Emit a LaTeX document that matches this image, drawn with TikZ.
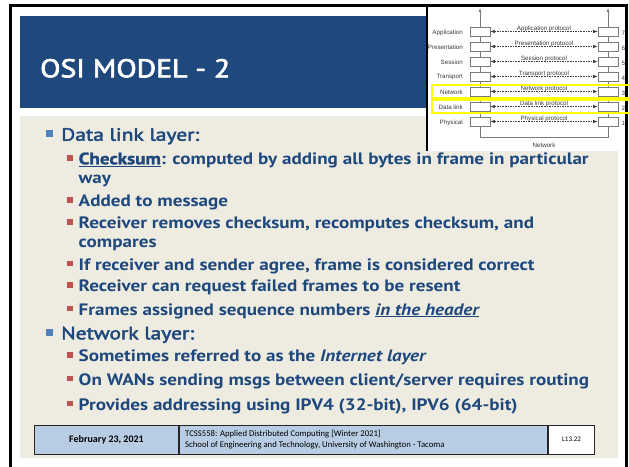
\documentclass[tikz,border=0pt]{standalone}
\usepackage{fontspec}
\usepackage{graphicx}
\usetikzlibrary{arrows.meta}

\setmainfont{PT Sans}
\newfontfamily\ptsans{PT Sans}
\newfontfamily\ptmed[FakeBold=2.5]{PT Sans}
\newfontfamily\ptheavy[FakeBold=1.5]{PT Sans}
\newfontfamily\carlito{Carlito}
\newfontfamily\arialish{Liberation Sans}

\definecolor{titleblue}{HTML}{1F497D}
\definecolor{pagebeige}{HTML}{EEECE1}
\definecolor{textblue}{HTML}{1F497D}
\definecolor{bulletblue}{HTML}{4F81BD}
\definecolor{bulletred}{HTML}{C0504D}
\definecolor{footblue}{HTML}{B8CCE4}
\definecolor{osigray}{HTML}{7A7A7A}
\definecolor{ositext}{HTML}{3A3A3A}
\definecolor{marker}{HTML}{FFFF00}

% fonts of the slide text
\newcommand\lonefont{\ptmed\fontsize{17.7}{20}\selectfont}
\newcommand\ltwofont{\ptsans\bfseries\fontsize{16.5}{19}\selectfont}
\newcommand\titlefont{\ptmed\fontsize{25.7}{30}\selectfont}
\newcommand\keyword[1]{{\ptheavy\bfseries\underline{#1}}}

% horizontal fit factor: #1 = macro, #2 = wanted width (pt), #3 = sample text
\newlength\natw
\newcommand\fitscale[3]{\settowidth\natw{#3}\pgfmathsetmacro#1{#2/\natw}}

\tikzset{
  lone/.style={anchor=base west, inner sep=0pt, text=textblue, font=\lonefont},
  ltwo/.style={anchor=base west, inner sep=0pt, text=textblue, font=\ltwofont},
  osibox/.style={draw=osigray, line width=0.6pt, fill=white, minimum width=20pt,
    minimum height=9pt, inner sep=0pt},
  osilab/.style={font=\arialish\fontsize{6.2}{7}\selectfont, text=ositext, inner sep=0pt},
  osiline/.style={draw=osigray, line width=0.6pt},
  proto/.style={draw=ositext, line width=0.5pt, dash pattern=on 1.6pt off 1pt,
    {Latex[length=4.5pt,width=3.2pt]}-{Latex[length=4.5pt,width=3.2pt]}},
  markbox/.style={draw=marker, line width=2pt},
  fcell/.style={draw=black!85, line width=1pt, minimum height=29pt, inner sep=0pt,
    anchor=west},
}

\begin{document}
\fitscale\sone{138}{\lonefont Data link layer:}%
\fitscale\stwo{510}{\ltwofont\keyword{Checksum}: computed by adding all bytes in frame in particular}%
\fitscale\stitle{190}{\titlefont OSI MODEL - 2}%
\begin{tikzpicture}[x=1pt,y=-1pt]
\useasboundingbox (0,0) rectangle (629,466);
\clip (0,0) rectangle (629,466);
\fill[white] (0,0) rectangle (629,466);

% title bar and content panel
\fill[titleblue] (20,16) rectangle (618,108);
\fill[pagebeige] (20,116) rectangle (618,458);
\node[anchor=base west, inner sep=0pt, text=white, font=\titlefont] (title)
  at (40,77.3) {\scalebox{\stitle}[1]{OSI MODEL - 2}};

% bullet list
\newcommand\bone[1]{\fill[bulletblue] (46,#1-10.4) rectangle (53.3,#1-3.4);}
\newcommand\btwo[1]{\fill[bulletred] (67,#1-9.3) rectangle (72.5,#1-3.8);}

\bone{140.7}
\node[lone] (dll) at (61,140.7) {\scalebox{\sone}[1]{Data link layer:}};
\btwo{164.3}
\node[ltwo] (chk) at (78.5,164.3) {\scalebox{\stwo}[1]{\keyword{Checksum}: computed by adding all bytes in frame in particular}};
\node[ltwo] (chkb) at (78.5,183.5) {\scalebox{\stwo}[1]{way}};
\btwo{206.7}
\node[ltwo] (add) at (78.5,206.7) {\scalebox{\stwo}[1]{Added to message}};
\btwo{228.3}
\node[ltwo] (rem) at (78.5,228.3) {\scalebox{\stwo}[1]{Receiver removes checksum, recomputes checksum, and}};
\node[ltwo] (remb) at (78.5,247.8) {\scalebox{\stwo}[1]{compares}};
\btwo{270}
\node[ltwo] (agr) at (78.5,270) {\scalebox{\stwo}[1]{If receiver and sender agree, frame is considered correct}};
\btwo{291.7}
\node[ltwo] (req) at (78.5,291.7) {\scalebox{\stwo}[1]{Receiver can request failed frames to be resent}};
\btwo{315}
\node[ltwo] (seq) at (78.5,315) {\scalebox{\stwo}[1]{Frames assigned sequence numbers \underline{\itshape in the header}}};
\bone{339.3}
\node[lone] (nwl) at (61,339.3) {\scalebox{\sone}[1]{Network layer:}};
\btwo{361.7}
\node[ltwo] (inet) at (78.5,361.7) {\scalebox{\stwo}[1]{Sometimes referred to as the \textit{Internet layer}}};
\btwo{385}
\node[ltwo] (wan) at (78.5,385) {\scalebox{\stwo}[1]{On WANs sending msgs between client/server requires routing}};
\btwo{410}
\node[ltwo] (ipv) at (78.5,410) {\scalebox{\stwo}[1]{Provides addressing using IPV4 (32-bit), IPV6 (64-bit)}};

% footer
\node[fcell, fill=footblue, minimum width=144pt] (fdate) at (34,439.5) {};
\node[fcell, fill=footblue, minimum width=368pt] (fcourse) at (fdate.east) {};
\node[fcell, fill=white, minimum width=46pt] (fslide) at (fcourse.east) {};
\node[font=\carlito\bfseries\fontsize{10}{12}\selectfont, inner sep=0pt] (fdatetxt)
  at (fdate.center) {February 23, 2021};
\node[anchor=west, align=left, inner sep=0pt, font=\carlito\fontsize{8.7}{10.4}\selectfont]
  (fcoursetxt) at (185,439.5)
  {TCSS558: Applied Distributed Computing [Winter 2021]\\School of Engineering and Technology, University of Washington - Tacoma};
\node[font=\carlito\fontsize{7}{8}\selectfont, inner sep=0pt] (fslidetxt)
  at (fslide.center) {L13.22};

% OSI layer figure
\fill[white] (427,5) rectangle (627,151);
\draw[line width=1.5pt, black] (427,5) -- (427,151);

\foreach \n/\lab/\plab/\yy in {7/Application/Application protocol/31.5,
    6/Presentation/Presentation protocol/46.5,
    5/Session/Session protocol/61.5,
    4/Transport/Transport protocol/76.5,
    3/Network/Network protocol/91.5,
    2/Data link/Data link protocol/106.5,
    1/Physical/Physical protocol/121.5}{
  \node[osibox] (L\n) at (480,\yy) {};
  \node[osibox] (R\n) at (608,\yy) {};
  \node[osilab, anchor=east] (T\n) at (463,\yy+1) {\lab};
  \node[osilab, anchor=west] (N\n) at (621.5,\yy+1.5) {\n};
  \draw[proto] (L\n.east) -- (R\n.west);
  \node[osilab, anchor=base] (P\n) at (544,\yy-0.6) {\plab};
}
\foreach \a/\b in {7/6,6/5,5/4,4/3,3/2,2/1}{
  \draw[osiline] (L\a) -- (L\b);
  \draw[osiline] (R\a) -- (R\b);
}
\coordinate (ltop) at (480,8);
\coordinate (rtop) at (608,8);
\draw[osiline, -{Latex[length=4pt,width=3pt]}] (L7) -- (ltop);
\draw[osiline, -{Latex[length=4pt,width=3pt]}] (R7) -- (rtop);
\coordinate (lbot) at (480,137.3);
\coordinate (rbot) at (608,137.3);
\draw[osiline] (L1) -- (lbot) -- (rbot) -- (R1);
\node[osilab] (net) at (544,145.5) {Network};

% slide frame
\draw[line width=2.5pt, black] (10.5,480) -- (10.5,5.5) -- (626.5,5.5) -- (626.5,480);

% highlighted layers
\draw[markbox] (432,85.3) rectangle (634,98.3);
\draw[markbox] (432,100.3) rectangle (634,113);
\end{tikzpicture}
\end{document}
